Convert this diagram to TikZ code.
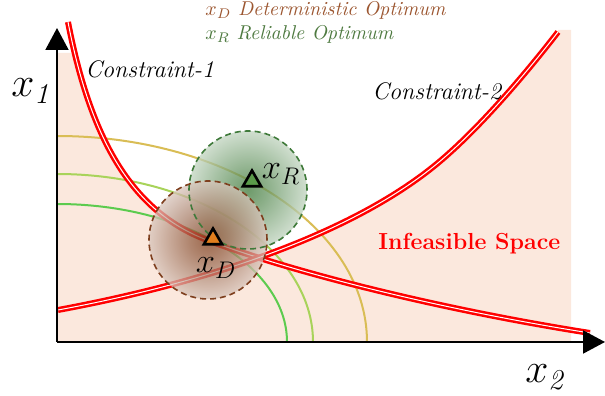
\documentclass[tikz,border=0pt]{standalone}
\usepackage{amsmath,amssymb}
\usepackage{xcolor}
\usepackage{tikz}
\usetikzlibrary{shapes.geometric, arrows.meta, positioning}
\definecolor{infeascolor}{HTML}{FBE8DD}
\definecolor{xdcolor}{HTML}{7E3F1E}
\definecolor{xrcolor}{HTML}{3F7A3A}
\definecolor{xdtext}{HTML}{9C5630}
\definecolor{xrtext}{HTML}{4E7A40}
\definecolor{xdfill}{HTML}{E07E1E}
\definecolor{xrfill}{HTML}{5A9A4A}
\definecolor{levelone}{HTML}{5CCB4E}
\definecolor{leveltwo}{HTML}{A8D35A}
\definecolor{levelthree}{HTML}{D9BD55}
\pgfdeclareradialshading{xdglow}{\pgfpointorigin}{color(0bp)=(xdcolor); color(8bp)=(xdcolor!80); color(25bp)=(xdcolor!30); color(50bp)=(xdcolor!6)}
\pgfdeclareradialshading{xrglow}{\pgfpointorigin}{color(0bp)=(xrcolor); color(8bp)=(xrcolor!80); color(25bp)=(xrcolor!32); color(50bp)=(xrcolor!9)}

\begin{document}
\begin{tikzpicture}[
    x=0.5pt, y=0.5pt,
    axis/.style={line width=1pt, -{Triangle[length=11pt, width=11.5pt]}},
    constraint/.style={red, line width=1.25pt, double=white, double distance=0.5pt},
    contour/.style={draw=#1, line width=1pt},
    zone/.style={draw=#1, line width=0.8pt, dash pattern=on 3pt off 2pt},
    optimum/.style={regular polygon, regular polygon sides=3, draw=black, fill=#1, line width=1.3pt, minimum size=10.5pt, inner sep=0pt},
    caption/.style={anchor=base west, inner sep=0pt},
    legend/.style={anchor=base west, inner sep=0pt, text=#1, font=\normalsize}
]
\useasboundingbox (0,0) rectangle (605,396);
\coordinate (origin) at (57,54);
\coordinate (ytip) at (57,368);
\coordinate (xtip) at (605,54);

% infeasible space, feasible part cut out in white
\fill[infeascolor] (origin) -- (57,343) -- (300,343) -- (300,366) -- (571,366) -- (571,54) -- cycle;
\begin{scope}
\clip (68,374) .. controls (90,260) and (130,185) .. (207,156) .. controls (300,121) and (450,85) .. (590,63) -- (605,63) -- (605,396) -- (68,396) -- cycle;
\fill[white] (58,86) .. controls (220,116) and (353,165) .. (433,229) .. controls (473,261) and (520,315) .. (558,364) -- (558,396) -- (0,396) -- (0,86) -- cycle;
\end{scope}

% level curves
\draw[contour=levelone] (57,192) arc[start angle=90, end angle=0, x radius=230, y radius=138];
\draw[contour=leveltwo] (57,222) arc[start angle=90, end angle=0, x radius=256, y radius=168];
\draw[contour=levelthree] (57,260) arc[start angle=90, end angle=0, x radius=310, y radius=206];

% constraints
\draw[constraint] (68,374) .. controls (90,260) and (130,185) .. (207,156) .. controls (300,121) and (450,85) .. (590,63);
\draw[constraint] (58,86) .. controls (220,116) and (353,165) .. (433,229) .. controls (473,261) and (520,315) .. (558,364);

% optimum zones
\coordinate (xrzone) at (248,206);
\coordinate (xdzone) at (208,156);
\shade[shading=xrglow, fill opacity=.75] (xrzone) circle[radius=59];
\shade[shading=xdglow, fill opacity=.75] (xdzone) circle[radius=59];
\draw[zone=xrcolor] (xrzone) circle[radius=59];
\draw[zone=xdcolor] (xdzone) circle[radius=59];

\draw[axis] (origin) -- (ytip);
\draw[axis] (origin) -- (xtip);

\node[optimum=xrfill] (xr) at (252,215) {};
\node[optimum=xdfill] (xd) at (213,157) {};
\node[font=\fontsize{17}{20}\selectfont] (xrlabel) at (281,222) {$x_R$};
\node[font=\fontsize{17}{20}\selectfont] (xdlabel) at (216,128) {$x_D$};

\node[caption, font=\fontsize{20}{24}\selectfont] (xonelabel) at (11,299) {$x_{\mathit{1}}$};
\node[caption, font=\fontsize{20}{24}\selectfont] (xtwolabel) at (525,13) {$x_{\mathit{2}}$};
\node[caption, font=\fontsize{12}{14}\selectfont\itshape] (conone) at (85,318) {Constraint-1};
\node[caption, font=\fontsize{12}{14}\selectfont\itshape] (contwo) at (372,296) {Constraint-2};
\node[caption, text=red, font=\fontsize{11.6}{14}\selectfont\bfseries] (infeas) at (378,146) {Infeasible Space};

\node[legend=xdtext] (legxd) at (205,380) {$x_D$ \textit{Deterministic Optimum}};
\node[legend=xrtext] (legxr) at (205,356) {$x_R$ \textit{Reliable Optimum}};
\end{tikzpicture}
\end{document}
